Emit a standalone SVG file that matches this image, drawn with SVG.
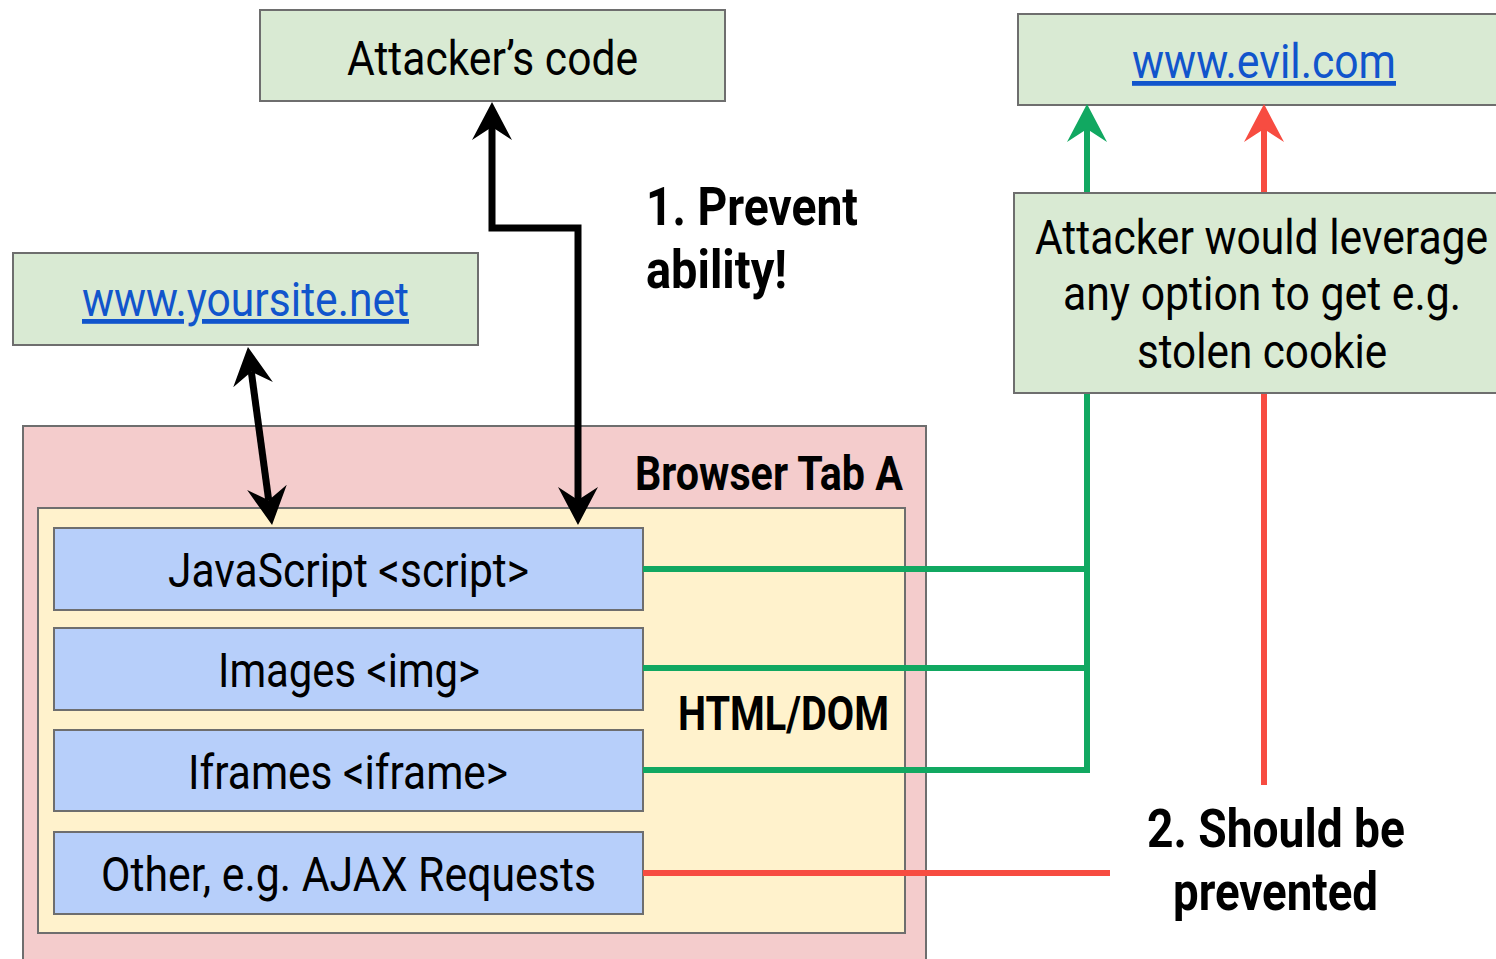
<svg xmlns="http://www.w3.org/2000/svg" width="1496" height="959" viewBox="0 0 1496 959">
  <style>
    .box { stroke: #6e6e6e; stroke-width: 2; }
    .green-box { fill: #d9ead3; }
    .tab { fill: #f4cccc; }
    .dom { fill: #fff2cc; }
    .item { fill: #b7cffa; }
    .t { font-family: Roboto, "Liberation Sans", sans-serif; font-size: 48px; fill: #000; }
    .mid { text-anchor: middle; }
    .link { fill: #1155cc; text-decoration: underline; }
    .b { font-family: Roboto, "Liberation Sans", sans-serif; font-weight: bold; fill: #000; }
    .wire { fill: none; stroke-linejoin: miter; }
    .k { stroke: #000; stroke-width: 7; }
    .g { stroke: #11a861; stroke-width: 6; }
    .r { stroke: #f74c41; stroke-width: 6; }
  </style>
  <defs>
    <marker id="arrow-k" markerUnits="userSpaceOnUse" viewBox="0 -22 42 44" refX="15" refY="0" markerWidth="42" markerHeight="44" orient="auto-start-reverse">
      <path d="M40,0 L2,-20 L15,0 L2,20 Z" fill="#000"/>
    </marker>
    <marker id="arrow-g" markerUnits="userSpaceOnUse" viewBox="0 -22 42 44" refX="15" refY="0" markerWidth="42" markerHeight="44" orient="auto">
      <path d="M40,0 L2,-20 L15,0 L2,20 Z" fill="#11a861"/>
    </marker>
    <marker id="arrow-r" markerUnits="userSpaceOnUse" viewBox="0 -22 42 44" refX="15" refY="0" markerWidth="42" markerHeight="44" orient="auto">
      <path d="M40,0 L2,-20 L15,0 L2,20 Z" fill="#f74c41"/>
    </marker>
  </defs>

  <rect width="1496" height="959" fill="#fff"/>

  <!-- Browser tab container -->
  <g id="browser-tab">
    <rect class="box tab" x="23" y="426" width="903" height="545"/>
    <text class="b" x="635" y="490" font-size="48" textLength="268" lengthAdjust="spacingAndGlyphs">Browser Tab A</text>
  </g>

  <g id="html-dom">
    <rect class="box dom" x="38" y="508" width="867" height="425"/>
    <text class="b" x="678" y="730" font-size="48" textLength="211" lengthAdjust="spacingAndGlyphs">HTML/DOM</text>
  </g>

  <g id="js">
    <rect class="box item" x="54" y="528" width="589" height="82"/>
    <text class="t" x="168" y="587" textLength="361" lengthAdjust="spacingAndGlyphs">JavaScript &lt;script&gt;</text>
  </g>
  <g id="img">
    <rect class="box item" x="54" y="628" width="589" height="82"/>
    <text class="t" x="218" y="687" textLength="262" lengthAdjust="spacingAndGlyphs">Images &lt;img&gt;</text>
  </g>
  <g id="iframe">
    <rect class="box item" x="54" y="730" width="589" height="81"/>
    <text class="t" x="188" y="789" textLength="320" lengthAdjust="spacingAndGlyphs">Iframes &lt;iframe&gt;</text>
  </g>
  <g id="other">
    <rect class="box item" x="54" y="832" width="589" height="82"/>
    <text class="t" x="101" y="891" textLength="495" lengthAdjust="spacingAndGlyphs">Other, e.g. AJAX Requests</text>
  </g>

  <g id="attacker-code">
    <rect class="box green-box" x="260" y="10" width="465" height="91"/>
    <text class="t" x="347" y="75" textLength="291" lengthAdjust="spacingAndGlyphs">Attacker’s code</text>
  </g>

  <g id="yoursite">
    <rect class="box green-box" x="13" y="253" width="465" height="92"/>
    <text class="t link" x="82" y="316" textLength="327" lengthAdjust="spacingAndGlyphs">www.yoursite.net</text>
  </g>

  <g id="evil">
    <rect class="box green-box" x="1018" y="14" width="480" height="91"/>
    <text class="t link" x="1132" y="78" textLength="264" lengthAdjust="spacingAndGlyphs">www.evil.com</text>
  </g>

  <!-- Connectors -->
  <g id="connectors">
    <path class="wire k" d="M578,500 V228 H492 V127" marker-start="url(#arrow-k)" marker-end="url(#arrow-k)"/>
    <path class="wire k" d="M251.3,371.8 L268.7,500.2" marker-start="url(#arrow-k)" marker-end="url(#arrow-k)"/>
    <path class="wire g" d="M643,569 H1087"/>
    <path class="wire g" d="M643,668 H1087"/>
    <path class="wire g" d="M643,770 H1087 V129" marker-end="url(#arrow-g)"/>
    <path class="wire r" d="M643,873 H1110"/>
    <path class="wire r" d="M1264,785 V129" marker-end="url(#arrow-r)"/>
  </g>

  <!-- condensed lines: horizontal scale applied via transform -->
  <g id="leverage">
    <rect class="box green-box" x="1014" y="193" width="484" height="200"/>
    <text class="t mid" transform="translate(1261.5 254) scale(0.86 1)" x="0" y="0" textLength="527" lengthAdjust="spacingAndGlyphs">Attacker would leverage</text>
    <text class="t mid" transform="translate(1262 310) scale(0.86 1)" x="0" y="0" textLength="463" lengthAdjust="spacingAndGlyphs">any option to get e.g.</text>
    <text class="t mid" transform="translate(1262 368) scale(0.86 1)" x="0" y="0" textLength="291" lengthAdjust="spacingAndGlyphs">stolen cookie</text>
  </g>

  <g id="label-prevent">
    <text class="b" x="646" y="225" font-size="54" textLength="212" lengthAdjust="spacingAndGlyphs">1. Prevent</text>
    <text class="b" x="646" y="288" font-size="54" textLength="141" lengthAdjust="spacingAndGlyphs">ability!</text>
  </g>

  <g id="label-should">
    <text class="b" x="1147" y="847" font-size="54" textLength="258" lengthAdjust="spacingAndGlyphs">2. Should be</text>
    <text class="b" x="1173" y="910" font-size="54" textLength="205" lengthAdjust="spacingAndGlyphs">prevented</text>
  </g>
</svg>
